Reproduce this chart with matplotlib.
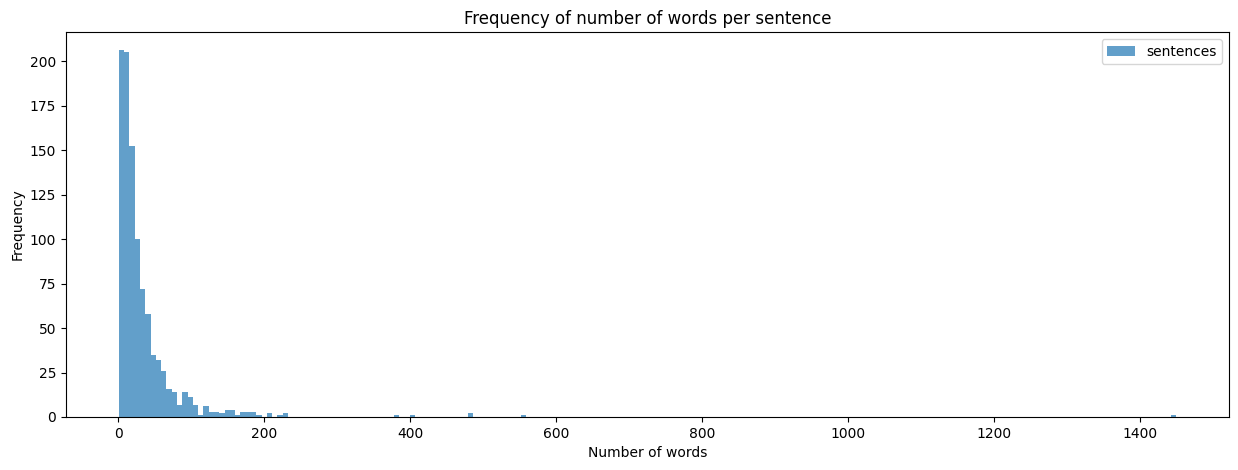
import numpy as np
import matplotlib
matplotlib.use("Agg")
import matplotlib.pyplot as plt

# Histogram data: 200 equal-width bins from min to max word count
word_min = 1
word_max = 1450
n_bins = 200

# Non-zero bin counts: {bin_index: count}
first_counts = [206, 205, 152, 100, 72, 58, 35, 32, 26, 16, 14, 7, 14, 11, 7,
                1, 6, 3, 3, 2, 4, 4, 1, 3, 3, 3, 1, 0, 2, 0, 1, 2]
outlier_bins = [52, 55, 66, 76, 199]
outlier_counts = [1, 1, 2, 1, 1]

counts = np.zeros(n_bins)
counts[:len(first_counts)] = first_counts
counts[outlier_bins] = outlier_counts

edges = np.linspace(word_min, word_max, n_bins + 1)
centers = (edges[:-1] + edges[1:]) / 2

fig = plt.figure(figsize=(12.38, 4.70), dpi=100)
fig.subplots_adjust(left=66/1238, right=1229/1238, top=1-32/470, bottom=1-417/470)
ax = fig.add_subplot(111)
ax.hist(centers, bins=edges, weights=counts, alpha=0.7, label="sentences")
ax.set_title("Frequency of number of words per sentence")
ax.set_xlabel("Number of words")
ax.set_ylabel("Frequency")
ax.legend(loc="upper right")
fig.savefig("out.png", dpi=100)
